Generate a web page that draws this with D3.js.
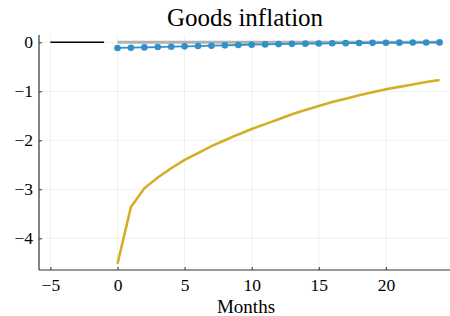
<!DOCTYPE html>
<html><head><meta charset="utf-8">
<script src="https://cdn.jsdelivr.net/npm/d3@7"></script>
<style>body{margin:0;background:#fff}svg{display:block}text{font-family:"Liberation Serif","DejaVu Serif",serif;fill:#000}</style>
</head><body><svg id="c" width="450" height="316"></svg>
<script>
const months = d3.range(0, 25);
const preMonths = [-5, -4, -3, -2, -1];
const preValues = [0, 0, 0, 0, 0];
const steadyState = months.map(() => 0);
const goodsBlue = [-0.115,-0.11,-0.104,-0.097,-0.09,-0.083,-0.076,-0.069,-0.062,-0.055,-0.049,-0.043,-0.037,-0.032,-0.028,-0.024,-0.02,-0.017,-0.014,-0.011,-0.009,-0.007,-0.005,-0.003,-0.002];
const goodsYellow = [-4.52,-3.36,-2.98,-2.76,-2.57,-2.40,-2.26,-2.12,-2.00,-1.88,-1.77,-1.67,-1.57,-1.47,-1.38,-1.30,-1.22,-1.15,-1.08,-1.02,-0.96,-0.91,-0.86,-0.81,-0.77];
const xTicks = [-5, 0, 5, 10, 15, 20];
const yTicks = [0, -1, -2, -3, -4];

const svg = d3.select("#c");
const x = d3.scaleLinear().domain([-5.85, 24.85]).range([39, 451]);
const y = d3.scaleLinear().domain([0.149, -4.647]).range([35, 270]);

// grid
svg.append("g").selectAll("line").data(xTicks).join("line")
  .attr("x1", d => x(d)).attr("x2", d => x(d)).attr("y1", 35).attr("y2", 270)
  .attr("stroke", "#000").attr("stroke-opacity", 0.1).attr("stroke-width", 0.6);
svg.append("g").selectAll("line").data(yTicks).join("line")
  .attr("y1", d => y(d)).attr("y2", d => y(d)).attr("x1", 39).attr("x2", 451)
  .attr("stroke", "#000").attr("stroke-opacity", 0.1).attr("stroke-width", 0.6);

const line = d3.line().x(d => x(d[0])).y(d => y(d[1]));

svg.append("path").datum(preMonths.map((m, i) => [m, preValues[i]]))
  .attr("d", line).attr("fill", "none").attr("stroke", "#000").attr("stroke-width", 1.4);
svg.append("path").datum(months.map((m, i) => [m, steadyState[i]]))
  .attr("d", line).attr("fill", "none").attr("stroke", "#aaaaaa").attr("stroke-opacity", 0.9).attr("stroke-width", 3);
svg.append("path").datum(months.map((m, i) => [m, goodsBlue[i]]))
  .attr("d", line).attr("fill", "none").attr("stroke", "#3090c8").attr("stroke-width", 1.8);
svg.append("g").selectAll("circle").data(months.map((m, i) => [m, goodsBlue[i]])).join("circle")
  .attr("cx", d => x(d[0])).attr("cy", d => y(d[1])).attr("r", 3.3).attr("fill", "#3090c8");
svg.append("path").datum(months.map((m, i) => [m, goodsYellow[i]]))
  .attr("d", line).attr("fill", "none").attr("stroke", "#d4af25").attr("stroke-width", 2.6);

// axes
const fmt = d3.format("d");
const xAxis = d3.axisBottom(x).tickValues(xTicks).tickFormat(fmt).tickSizeInner(-3).tickSizeOuter(0).tickPadding(8.6);
const gx = svg.append("g").attr("transform", "translate(0,270)").call(xAxis);
const yAxis = d3.axisLeft(y).tickValues(yTicks).tickFormat(fmt).tickSizeInner(-3).tickSizeOuter(0).tickPadding(6);
const gy = svg.append("g").attr("transform", "translate(39,0)").call(yAxis);
[gx, gy].forEach(g => {
  g.select(".domain").attr("stroke", "#333").attr("stroke-width", 1.2);
  g.selectAll(".tick line").attr("stroke", "#333").attr("stroke-width", 1);
  g.selectAll(".tick text").style("font-family", '"Liberation Serif",serif').style("font-size", "17.5px").attr("fill", "#000");
});
gx.select(".domain").attr("d", "M39,0H451");
gy.select(".domain").attr("d", "M0,35V270");

svg.append("text").attr("x", 245).attr("y", 26).attr("text-anchor", "middle").style("font-size", "25px").text("Goods inflation");
svg.append("text").attr("x", 246).attr("y", 313).attr("text-anchor", "middle").style("font-size", "19px").text("Months");
</script></body></html>
